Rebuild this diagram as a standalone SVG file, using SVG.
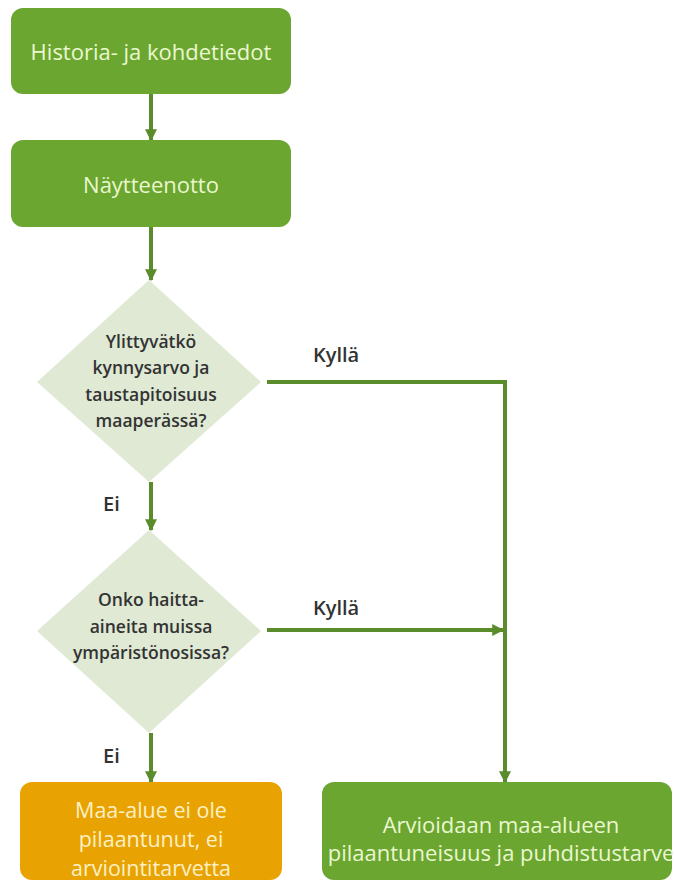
<svg xmlns="http://www.w3.org/2000/svg" width="675" height="884" viewBox="0 0 675 884">
<style>
.box{fill:#6aa630}
.obox{fill:#e8a303}
.dia{fill:#dfe9d3}
.bt{font-family:"Open Sans","Noto Sans",sans-serif;font-size:22px;fill:#eaf7cf;text-anchor:middle}
.ot{font-family:"Open Sans","Noto Sans",sans-serif;font-size:21.5px;fill:#fdf0c4;text-anchor:middle}
.dt{font-family:"Open Sans","Noto Sans",sans-serif;font-size:17.5px;font-weight:600;fill:#333;text-anchor:middle}
.lbl{font-family:"Open Sans","Noto Sans",sans-serif;font-size:20px;font-weight:600;fill:#333}
.con{stroke:#5b8c2c;stroke-width:4;fill:none}
</style>
<defs>
<marker id="ah" viewBox="0 0 10 10" refX="9" refY="5" markerWidth="3" markerHeight="3" orient="auto">
<path d="M0,0 L10,5 L0,10 z" fill="#5b8c2c"/>
</marker>
</defs>
<rect width="675" height="884" fill="#fff"/>
<g id="connectors">
<line class="con" x1="151" y1="94" x2="151" y2="140" marker-end="url(#ah)"/>
<line class="con" x1="151" y1="227" x2="151" y2="280" marker-end="url(#ah)"/>
<line class="con" x1="151" y1="482" x2="151" y2="530" marker-end="url(#ah)"/>
<line class="con" x1="151" y1="733" x2="151" y2="782" marker-end="url(#ah)"/>
<polyline class="con" points="267,382 505,382 505,782" marker-end="url(#ah)"/>
<line class="con" x1="267" y1="630" x2="503" y2="630" marker-end="url(#ah)"/>
<text class="lbl" x="313" y="362">Kyllä</text>
<text class="lbl" x="313" y="615">Kyllä</text>
<text class="lbl" x="103" y="511">Ei</text>
<text class="lbl" x="103" y="763">Ei</text>
</g>
<g id="n1">
<rect class="box" x="11" y="8" width="280" height="86" rx="12"/>
<text class="bt" x="151" y="60">Historia- ja kohdetiedot</text>
</g>
<g id="n2">
<rect class="box" x="11" y="140" width="280" height="87" rx="12"/>
<text class="bt" x="151" y="193">Näytteenotto</text>
</g>
<g id="d1">
<polygon class="dia" points="149,280 261,382 149,482 37,382"/>
<text class="dt" x="151" y="348">Ylittyvätkö</text>
<text class="dt" x="151" y="374">kynnysarvo ja</text>
<text class="dt" x="151" y="401">taustapitoisuus</text>
<text class="dt" x="151" y="427">maaperässä?</text>
</g>
<g id="d2">
<polygon class="dia" points="149,530 261,631 149,733 37,631"/>
<text class="dt" x="151" y="606">Onko haitta-</text>
<text class="dt" x="151" y="633">aineita muissa</text>
<text class="dt" x="151" y="659">ympäristönosissa?</text>
</g>
<g id="n3">
<rect class="obox" x="20" y="782" width="262" height="98" rx="12"/>
<text class="ot" x="151" y="818">Maa-alue ei ole</text>
<text class="ot" x="151" y="847">pilaantunut, ei</text>
<text class="ot" x="151" y="876">arviointitarvetta</text>
</g>
<g id="n4">
<rect class="box" x="322" y="782" width="350" height="98" rx="12"/>
<text class="bt" x="501" y="833">Arvioidaan maa-alueen</text>
<text class="bt" x="501" y="861">pilaantuneisuus ja puhdistustarve</text>
</g>
</svg>
